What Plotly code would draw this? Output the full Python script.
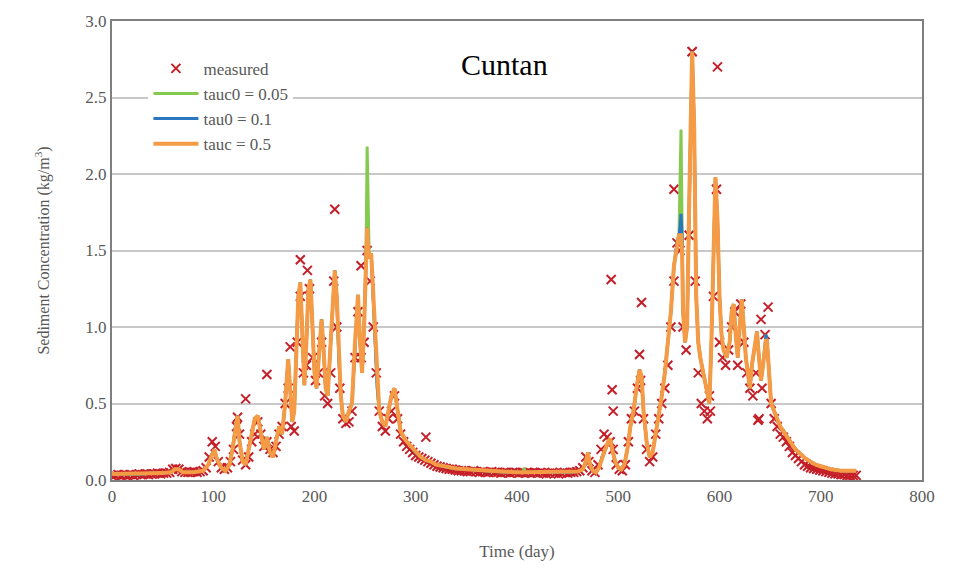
import plotly.graph_objects as go

# ---------------- data ----------------
# simulated series (tauc = 0.5), days and values
sim_days = [0, 10, 20, 30, 40, 50, 58, 62, 66, 70, 80, 90, 95, 98, 101, 104, 108, 112, 116, 119,
            122, 124, 126, 129, 132, 135, 138, 141, 144, 147, 150, 153, 156, 159, 162, 165, 168, 171, 174, 176,
            178, 180, 182, 184, 186, 188, 190, 192, 194, 196, 198, 200, 202, 204, 207, 209, 211, 213, 215, 218,
            220, 222, 224, 226, 228, 231, 234, 237, 240, 243, 245, 247, 249, 251, 252, 253, 254, 256, 258, 260,
            262, 264, 267, 270, 273, 276, 279, 282, 285, 290, 295, 300, 305, 310, 315, 320, 330, 340, 350, 360,
            370, 380, 390, 400, 406, 407, 408, 410, 420, 430, 440, 450, 460, 465, 468, 470, 472, 475, 478, 481,
            484, 487, 490, 492, 494, 497, 500, 503, 506, 509, 512, 515, 518, 521, 523, 525, 528, 531, 534, 537,
            540, 543, 546, 549, 552, 555, 558, 560, 561, 562, 563, 564, 566, 568, 570, 572, 573, 575, 577, 579,
            581, 584, 587, 590, 592, 594, 596, 598, 600, 602, 604, 607, 610, 612, 614, 616, 618, 620, 622, 624,
            626, 628, 630, 632, 635, 637, 639, 641, 643, 645, 646, 647, 649, 651, 654, 657, 660, 665, 670, 675,
            680, 685, 690, 695, 700, 710, 720, 730, 735]
tauc_05 = [0.04, 0.04, 0.04, 0.04, 0.045, 0.045, 0.05, 0.07, 0.07, 0.05, 0.05, 0.06, 0.10, 0.16, 0.20, 0.13, 0.08, 0.06, 0.10, 0.20,
           0.35, 0.42, 0.25, 0.12, 0.10, 0.20, 0.30, 0.40, 0.42, 0.30, 0.20, 0.28, 0.18, 0.15, 0.25, 0.35, 0.30, 0.50, 0.79, 0.60,
           0.38, 0.45, 0.80, 1.20, 1.29, 0.90, 0.62, 0.90, 1.25, 1.31, 1.00, 0.70, 0.60, 0.80, 1.05, 0.85, 0.60, 0.55, 0.80, 1.20,
           1.37, 1.20, 0.80, 0.55, 0.42, 0.38, 0.45, 0.50, 0.90, 1.21, 0.90, 0.70, 1.00, 1.55, 1.65, 1.50, 1.45, 1.48, 1.20, 0.90,
           0.60, 0.45, 0.38, 0.35, 0.45, 0.55, 0.60, 0.45, 0.32, 0.26, 0.22, 0.18, 0.15, 0.13, 0.12, 0.10, 0.085, 0.075, 0.07, 0.065,
           0.06, 0.055, 0.05, 0.05, 0.05, 0.05, 0.05, 0.05, 0.05, 0.05, 0.05, 0.05, 0.055, 0.07, 0.12, 0.18, 0.10, 0.06, 0.05, 0.08,
           0.15, 0.20, 0.25, 0.27, 0.20, 0.12, 0.08, 0.07, 0.10, 0.20, 0.35, 0.45, 0.60, 0.72, 0.68, 0.45, 0.25, 0.15, 0.18, 0.30,
           0.45, 0.55, 0.70, 0.90, 1.10, 1.40, 1.55, 1.60, 1.60, 1.60, 1.50, 1.10, 0.90, 1.00, 1.80, 2.50, 2.80, 2.30, 1.20, 0.90,
           0.80, 0.70, 0.60, 0.50, 0.90, 1.50, 1.98, 1.70, 1.20, 0.95, 0.85, 0.80, 0.90, 1.10, 1.15, 0.95, 0.80, 1.00, 1.18, 1.00,
           0.80, 0.70, 0.60, 0.75, 0.90, 0.97, 0.80, 0.65, 0.75, 0.90, 0.92, 0.90, 0.70, 0.50, 0.45, 0.40, 0.35, 0.30, 0.25, 0.20,
           0.17, 0.14, 0.12, 0.10, 0.09, 0.07, 0.06, 0.06, 0.06]
# days where the other two runs differ from tauc = 0.5
tau0_01_diff_days = [561, 562, 563, 646]
tau0_01_diff_vals = [1.65, 1.74, 1.60, 0.95]
tauc0_005_diff_days = [252, 253, 407, 561, 562, 563, 646]
tauc0_005_diff_vals = [2.18, 1.70, 0.08, 1.90, 2.29, 1.70, 0.95]

# measured concentration, every 3 days starting at day 0
measured_vals = [
    0.03, 0.03, 0.035, 0.03, 0.035, 0.03, 0.035, 0.03, 0.035, 0.04,      # 0
    0.035, 0.04, 0.035, 0.04, 0.04, 0.045, 0.04, 0.045, 0.045, 0.05,     # 30
    0.07, 0.075, 0.07, 0.055, 0.05, 0.05, 0.05, 0.055, 0.05, 0.055,      # 60
    0.06, 0.08, 0.15, 0.25, 0.22, 0.12, 0.08, 0.07, 0.08, 0.12,          # 90
    0.20, 0.35, 0.30, 0.13, 0.10, 0.15, 0.25, 0.30, 0.38, 0.30,          # 120
    0.22, 0.25, 0.20, 0.18, 0.22, 0.30, 0.35, 0.50, 0.60, 0.35,          # 150
    0.32, 0.90, 1.20, 0.70, 0.75, 1.25, 0.80, 0.65, 0.70, 0.90,          # 180
    0.55, 0.50, 0.70, 1.30, 1.00, 0.60, 0.40, 0.37, 0.38, 0.45,          # 210
    0.80, 1.10, 0.80, 0.90, 1.50, 1.30, 1.00, 0.70, 0.45, 0.35,          # 240
    0.32, 0.40, 0.45, 0.55, 0.40, 0.30, 0.25, 0.22, 0.20, 0.18,          # 270
    0.16, 0.15, 0.14, 0.13, 0.12, 0.11, 0.10, 0.09, 0.085, 0.08,         # 300
    0.075, 0.07, 0.07, 0.065, 0.06, 0.06, 0.06, 0.055, 0.055, 0.06,      # 330
    0.055, 0.05, 0.055, 0.05, 0.05, 0.055, 0.05, 0.05, 0.045, 0.05,      # 360
    0.05, 0.045, 0.05, 0.05, 0.045, 0.05, 0.045, 0.05, 0.045, 0.05,      # 390
    0.045, 0.05, 0.045, 0.04, 0.045, 0.05, 0.045, 0.04, 0.045, 0.05,     # 420
    0.045, 0.05, 0.05, 0.055, 0.06, 0.08, 0.15, 0.12, 0.06, 0.05,        # 450
    0.10, 0.20, 0.30, 0.28, 0.25, 0.20, 0.10, 0.07, 0.06, 0.10,          # 480
    0.25, 0.40, 0.45, 0.60, 0.65, 0.40, 0.20, 0.12, 0.15, 0.30,          # 510
    0.40, 0.50, 0.60, 0.75, 1.00, 1.30, 1.55, 1.50, 1.00, 0.85,          # 540
    1.60, 2.80, 1.30, 0.70, 0.50, 0.45, 0.40, 0.45, 1.20, 1.90,          # 570
    0.90, 0.80, 0.75, 0.85, 1.00, 1.10, 0.75, 1.15, 0.90, 0.70,          # 600
    0.60, 0.55, 0.70, 0.40, 0.60, 0.95, 1.13, 0.50, 0.40, 0.35,          # 630
    0.30, 0.28, 0.25, 0.22, 0.18, 0.16, 0.14, 0.12, 0.10, 0.09,          # 660
    0.08, 0.075, 0.07, 0.065, 0.06, 0.055, 0.05, 0.045, 0.04, 0.04,      # 690
    0.035, 0.035, 0.03, 0.03, 0.03, 0.03,                                # 720
]
measured_step = 3
# isolated measured samples
outlier_days = [124, 132, 153, 176, 186, 193, 220, 246, 310, 493, 494, 495, 521, 523, 555, 573, 598, 590, 638, 641]
outlier_vals = [0.41, 0.53, 0.69, 0.87, 1.44, 1.37, 1.77, 1.40, 0.28, 1.31, 0.59, 0.45, 0.82, 1.16, 1.90, 2.80, 2.70, 0.55, 0.39, 1.05]

x_ticks = [0, 100, 200, 300, 400, 500, 600, 700, 800]
y_ticks = [0.0, 0.5, 1.0, 1.5, 2.0, 2.5, 3.0]

# ---------------- build series ----------------
def with_overrides(days, base, odays, ovals):
    m = dict(zip(days, base))
    for d, v in zip(odays, ovals):
        m[d] = v
    ks = sorted(m)
    return ks, [m[k] for k in ks]

g_days, g_vals = with_overrides(sim_days, tauc_05, tauc0_005_diff_days, tauc0_005_diff_vals)
b_days, b_vals = with_overrides(sim_days, tauc_05, tau0_01_diff_days, tau0_01_diff_vals)

meas_days = [measured_step * i for i in range(len(measured_vals))] + outlier_days
meas_all = list(measured_vals) + outlier_vals

SERIF = "Liberation Serif, Times New Roman, serif"
GRAY = "#595959"

fig = go.Figure()
fig.add_trace(go.Scatter(
    x=meas_days, y=meas_all, mode="markers", name="measured",
    marker=dict(symbol="x-thin", size=9, line=dict(width=2, color="#c41f28"), color="#c41f28"),
))
fig.add_trace(go.Scatter(x=g_days, y=g_vals, mode="lines", name="tauc0 = 0.05",
                         line=dict(color="#86c94f", width=3)))
fig.add_trace(go.Scatter(x=b_days, y=b_vals, mode="lines", name="tau0 = 0.1",
                         line=dict(color="#2a76c0", width=3)))
fig.add_trace(go.Scatter(x=sim_days, y=tauc_05, mode="lines", name="tauc = 0.5",
                         line=dict(color="#f59a45", width=4)))

fig.add_annotation(text="Cuntan", x=0.485, y=0.905, xref="paper", yref="paper",
                   xanchor="center", yanchor="middle", showarrow=False,
                   font=dict(family=SERIF, size=30, color="black"))

fig.update_layout(
    width=958, height=573,
    margin=dict(l=112, r=36, t=15, b=93),
    paper_bgcolor="white", plot_bgcolor="white",
    font=dict(family=SERIF, color=GRAY),
    showlegend=True,
    legend=dict(x=0.045, y=0.935, xanchor="left", yanchor="top",
                bgcolor="white", font=dict(family=SERIF, size=17, color=GRAY),
                tracegroupgap=0, itemwidth=45),
    xaxis=dict(range=[0, 800], tickvals=x_ticks, ticktext=[str(v) for v in x_ticks],
               showgrid=False, zeroline=False, showline=True, linecolor="#7f7f7f", linewidth=2,
               mirror=True, ticks="", tickfont=dict(family=SERIF, size=17, color=GRAY),
               title=dict(text="Time (day)", font=dict(family=SERIF, size=17, color=GRAY), standoff=40)),
    yaxis=dict(range=[0, 3.0], tickvals=y_ticks, ticktext=["%.1f" % v for v in y_ticks],
               showgrid=True, gridcolor="#c8c8c8", gridwidth=2, zeroline=False,
               showline=True, linecolor="#7f7f7f", linewidth=2, mirror=True, ticks="",
               tickfont=dict(family=SERIF, size=17, color=GRAY),
               title=dict(text="Sediment Concentration (kg/m<sup>3</sup>)",
                          font=dict(family=SERIF, size=16, color=GRAY), standoff=32)),
)

fig.write_html("out.html")
